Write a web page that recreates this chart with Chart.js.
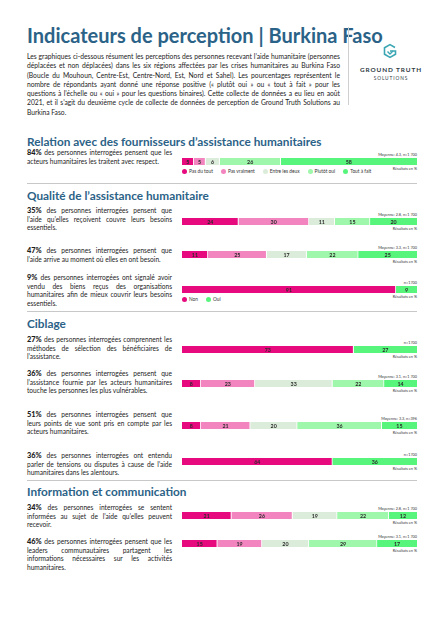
<!DOCTYPE html>
<html lang="fr">
<head>
<meta charset="utf-8">
<script src="https://cdn.jsdelivr.net/npm/chart.js@4"></script>
<style>
  body { margin: 0; background: #fff; font-family: Lato, "Noto Sans", sans-serif; color: #1c1c1c; }
  #page { position: relative; width: 445px; height: 629px; overflow: hidden; }
  .abs { position: absolute; }
  h1 { margin: 0; font-size: 20px; line-height: 24px; font-weight: 700; color: #2b6287; }
  h2 { margin: 0; font-size: 11.8px; line-height: 12px; font-weight: 700; color: #2b6287; }
  .intro { width: 313px; font-size: 6.72px; line-height: 9.3px; text-align: justify; }
  .q { width: 145px; font-size: 6.6px; line-height: 8.4px; text-align: justify; }
  .q b { font-size: 7.4px; line-height: 8px; font-weight: 900; }
  .sep { height: 1px; background: #c8c8c8; left: 27px; width: 390px; }
  .note { font-size: 3.8px; line-height: 4px; right: 28px; text-align: right; color: #333; }
  .legend { font-size: 4.8px; line-height: 5px; color: #333; display: flex; align-items: center; }
  .legend span { display: inline-flex; align-items: center; margin-right: 8px; }
  .legend i { display: inline-block; width: 5px; height: 5px; border-radius: 50%; margin-right: 2px; }
</style>
</head>
<body>
<div id="page"></div>
<script>
// Libellés des échelles
const scaleLabels = ['Pas du tout', 'Pas vraiment', 'Entre les deux', 'Plutôt oui', 'Tout à fait'];
const binaryLabels = ['Non', 'Oui'];
const scaleColors = ['#e60a7e', '#f285bf', '#dcecda', '#9ef7aa', '#57f57c'];
const binaryColors = ['#e60a7e', '#57f57c'];

// Résultats en %
const respect = [5, 5, 6, 26, 58];
const besoins = [24, 30, 11, 15, 20];
const moment = [11, 25, 17, 22, 25];
const vendu = [91, 9];
const selection = [73, 27];
const vulnerables = [8, 23, 33, 22, 14];
const pointsDeVue = [8, 21, 20, 36, 15];
const tensions = [64, 36];
const informees = [21, 26, 19, 22, 12];
const leaders = [15, 19, 20, 29, 17];

const notes = [
  'Moyenne: 4.3, n=1 700', 'Moyenne: 2.8, n=1 700', 'Moyenne: 3.3, n=1 700', 'n=1700',
  'n=1700', 'Moyenne: 3.1, n=1 700', 'Moyenne: 3.3, n=396', 'n=1700',
  'Moyenne: 2.8, n=1 700', 'Moyenne: 3.1, n=1 700'
];

const questions = [
  '<b>84%</b> des personnes interrogées pensent que les acteurs humanitaires les traitent avec respect.',
  '<b>35%</b> des personnes interrogées pensent que l\u2019aide qu\u2019elles reçoivent couvre leurs besoins essentiels.',
  '<b>47%</b> des personnes interrogées pensent que l\u2019aide arrive au moment où elles en ont besoin.',
  '<b>9%</b> des personnes interrogées ont signalé avoir vendu des biens reçus des organisations humanitaires afin de mieux couvrir leurs besoins essentiels.',
  '<b>27%</b> des personnes interrogées comprennent les méthodes de sélection des bénéficiaires de l\u2019assistance.',
  '<b>36%</b> des personnes interrogées pensent que l\u2019assistance fournie par les acteurs humanitaires touche les personnes les plus vulnérables.',
  '<b>51%</b> des personnes interrogées pensent que leurs points de vue sont pris en compte par les acteurs humanitaires.',
  '<b>36%</b> des personnes interrogées ont entendu parler de tensions ou disputes à cause de l\u2019aide humanitaires dans les alentours.',
  '<b>34%</b> des personnes interrogées se sentent informées au sujet de l\u2019aide qu\u2019elles peuvent recevoir.',
  '<b>46%</b> des personnes interrogées pensent que les leaders communautaires partagent les informations nécessaires sur les activités humanitaires.'
];

const series = [respect, besoins, moment, vendu, selection, vulnerables, pointsDeVue, tensions, informees, leaders];

const sections = ['Relation avec des fournisseurs d\u2019assistance humanitaires', 'Qualité de l\u2019assistance humanitaire', 'Ciblage', 'Information et communication'];

// mise en page
const sectionTop = [136, 190, 318, 486];
const sepTop = [183, 311, 480];
const textTop = [148, 206, 246, 273, 335, 369, 410, 451, 503, 537];
const barTop = [158, 218, 251, 286, 346, 380, 422, 458, 512, 540];
const legendAfter = { 0: 'scale', 3: 'binary' };

const page = document.getElementById('page');
function add(cls, html, style) {
  const d = document.createElement('div');
  d.className = 'abs ' + cls;
  d.innerHTML = html;
  Object.assign(d.style, style);
  page.appendChild(d);
  return d;
}

add('', '<h1>Indicateurs de perception | Burkina Faso</h1>', { left: '27px', top: '23px' });
add('intro', 'Les graphiques ci-dessous résument les perceptions des personnes recevant l\u2019aide humanitaire (personnes déplacées et non déplacées) dans les six régions affectées par les crises humanitaires au Burkina Faso (Boucle du Mouhoun, Centre-Est, Centre-Nord, Est, Nord et Sahel). Les pourcentages représentent le nombre de répondants ayant donné une réponse positive (« plutôt oui » ou « tout à fait » pour les questions à l\u2019échelle ou « oui » pour les questions binaires). Cette collecte de données a eu lieu en août 2021, et il s\u2019agit du deuxième cycle de collecte de données de perception de Ground Truth Solutions au Burkina Faso.', { left: '27px', top: '52px' });
add('', '', { left: '348px', top: '27px', width: '1px', height: '78px', background: '#cfcfcf' });
add('', '<svg width="16" height="16" viewBox="0 0 16 16"><path d="M13 4.5 L8 1.6 L2.5 4.8 L2.5 11.2 L8 14.4 L13.5 11.2 L13.5 8 L8 8" fill="none" stroke="#3aa6b3" stroke-width="1.6"/><path d="M5.5 8.5 L8 11 L11 8" fill="none" stroke="#3aa6b3" stroke-width="1.4"/></svg>', { left: '382px', top: '43px' });
add('', 'GROUND TRUTH', { left: '352px', top: '66px', width: '78px', textAlign: 'center', fontSize: '6.4px', lineHeight: '7px', fontWeight: '700', letterSpacing: '0.9px', color: '#2f3b44' });
add('', 'SOLUTIONS', { left: '352px', top: '75px', width: '78px', textAlign: 'center', fontSize: '4.8px', lineHeight: '6px', letterSpacing: '0.9px', color: '#2f3b44' });

sections.forEach((s, i) => add('', '<h2>' + s + '</h2>', { left: '27px', top: sectionTop[i] + 'px' }));
sepTop.forEach(t => add('sep', '', { top: t + 'px' }));

// étiquettes de valeur dans chaque segment
const valueLabels = {
  id: 'valueLabels',
  afterDatasetsDraw(chart) {
    const ctx = chart.ctx;
    ctx.save();
    ctx.font = '700 5.3px Lato, sans-serif';
    ctx.fillStyle = '#2a2a2a';
    ctx.textAlign = 'center';
    ctx.textBaseline = 'middle';
    chart.data.datasets.forEach((ds, i) => {
      chart.getDatasetMeta(i).data.forEach((el, j) => {
        ctx.fillText(ds.data[j], (el.x + el.base) / 2, el.y + 0.5);
      });
    });
    ctx.restore();
  }
};

function drawBar(canvas, values) {
  const binary = values.length === 2;
  const labels = binary ? binaryLabels : scaleLabels;
  const colors = binary ? binaryColors : scaleColors;
  new Chart(canvas.getContext('2d'), {
    type: 'bar',
    data: {
      labels: [''],
      datasets: values.map((v, i) => ({
        label: labels[i],
        data: [v],
        backgroundColor: colors[i],
        borderColor: '#ffffff',
        borderWidth: { top: 0, bottom: 0, left: 0, right: i === values.length - 1 ? 0 : 1 },
        borderSkipped: false,
        barPercentage: 1,
        categoryPercentage: 1
      }))
    },
    options: {
      indexAxis: 'y',
      responsive: false,
      animation: false,
      layout: { padding: 0 },
      scales: {
        x: { stacked: true, min: 0, max: 100, display: false },
        y: { stacked: true, display: false }
      },
      plugins: { legend: { display: false }, tooltip: { enabled: false } }
    },
    plugins: [valueLabels]
  });
}

series.forEach((values, i) => {
  add('q', questions[i], { left: '27px', top: textTop[i] + 'px' });
  add('note', notes[i], { top: (barTop[i] - 5) + 'px' });
  add('note', 'Résultats en %', { top: (barTop[i] + 9) + 'px' });
  const c = document.createElement('canvas');
  c.width = 235; c.height = 7;
  c.className = 'abs';
  c.style.left = '182px';
  c.style.top = barTop[i] + 'px';
  page.appendChild(c);
  drawBar(c, values);

  if (legendAfter[i]) {
    const labels = legendAfter[i] === 'binary' ? binaryLabels : scaleLabels;
    const colors = legendAfter[i] === 'binary' ? binaryColors : scaleColors;
    const html = labels.map((l, k) => '<span><i style="background:' + colors[k] + '"></i>' + l + '</span>').join('');
    add('legend', html, { left: '182px', top: (barTop[i] + 11) + 'px' });
  }
});
</script>
</body>
</html>
